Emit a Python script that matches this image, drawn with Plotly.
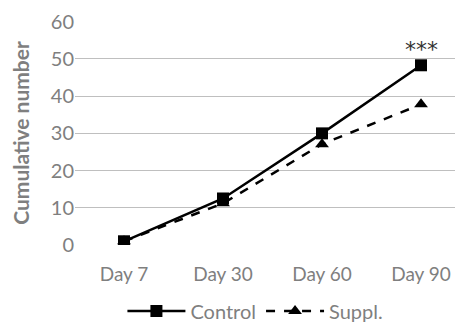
import plotly.graph_objects as go

categories = ["Day 7", "Day 30", "Day 60", "Day 90"]
control = [1, 12.5, 30, 48.3]
suppl = [1, 11.2, 27.1, 37.8]
y_ticks = [0, 10, 20, 30, 40, 50, 60]

grey = "#7f7f7f"
font_family = "Lato, Open Sans, sans-serif"

fig = go.Figure()
fig.add_trace(go.Scatter(
    x=categories, y=control, name="Control", mode="lines+markers",
    line=dict(color="black", width=2.5),
    marker=dict(symbol="square", size=12, color="black"),
))
fig.add_trace(go.Scatter(
    x=categories, y=suppl, name="Suppl.", mode="lines+markers",
    line=dict(color="black", width=2.5, dash="dash"),
    marker=dict(symbol="triangle-up", size=12, color="black"),
))

fig.add_annotation(x="Day 90", y=control[3], text="***", showarrow=False,
                   yshift=16, font=dict(size=22, color="#333", family="DejaVu Sans"))

# page body has an 8px default margin, so the figure is 8px smaller on each axis
fig.update_layout(
    width=455, height=314,
    margin=dict(l=67, r=0, t=13, b=77, autoexpand=False),
    paper_bgcolor="white", plot_bgcolor="white",
    font=dict(family=font_family, color=grey, size=19),
    showlegend=True,
    legend=dict(orientation="h", x=0.465, xanchor="center", yref="container",
                y=0.035, yanchor="middle",
                font=dict(size=20, color=grey), itemwidth=58, tracegroupgap=0),
)
fig.update_xaxes(
    type="category", range=[-0.495, 3.424], showgrid=False, showline=False,
    ticks="", tickfont=dict(size=19, color=grey), zeroline=False,
    ticklabelstandoff=16, automargin=False,
)
fig.update_yaxes(
    range=[0, 60.2], tickvals=y_ticks, showgrid=True, gridcolor="#bfbfbf", gridwidth=1,
    zeroline=False, showline=False, ticks="", ticklen=0,
    tickfont=dict(size=20, color=grey), automargin=False,
    title=dict(text="<b>Cumulative number</b>", font=dict(size=21, color=grey), standoff=16),
)

fig.write_html("out.html")
